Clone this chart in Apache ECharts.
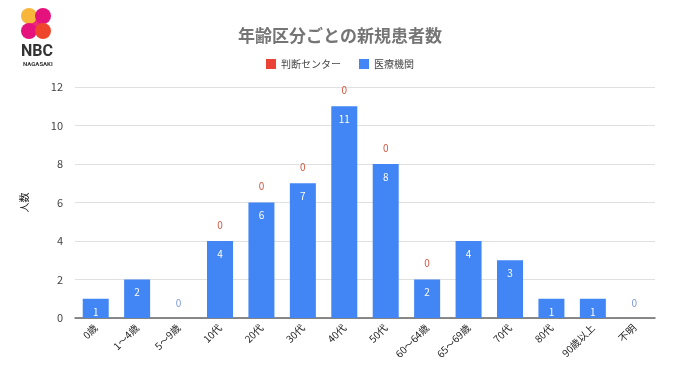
<!DOCTYPE html>
<html><head><meta charset="utf-8">
<script src="https://cdn.jsdelivr.net/npm/echarts@6/dist/echarts.min.js"></script>
<style>html,body{margin:0;padding:0;background:#fff}#c{width:680px;height:382px}</style>
</head><body><div id="c"></div>
<script>
const categories = ['0歳','1〜4歳','5〜9歳','10代','20代','30代','40代','50代','60〜64歳','65〜69歳','70代','80代','90歳以上','不明'];
const centerValues = [null,null,null,0,0,0,0,0,0,null,null,null,null,null];
const hospitalValues = [1,2,0,4,6,7,11,8,2,4,3,1,1,0];
const yTicks = {min:0, max:12, interval:2};
const FONT = '"Noto Sans CJK JP", "Noto Sans", sans-serif';

const chart = echarts.init(document.getElementById('c'), null, {renderer:'canvas'});
chart.setOption({
  backgroundColor:'#fff',
  textStyle:{fontFamily:FONT},
  title:{text:'年齢区分ごとの新規患者数', left:'center', top:22,
    textStyle:{fontSize:17, fontWeight:'bold', color:'#757575', fontFamily:FONT}},
  legend:{top:54, left:'center', itemWidth:10, itemHeight:10, itemGap:18, icon:'rect',
    textStyle:{fontSize:10, color:'#444', fontFamily:FONT},
    data:['判断センター','医療機関']},
  grid:{left:75, right:25, top:87, bottom:64},
  xAxis:{type:'category', data:categories,
    axisLine:{lineStyle:{color:'#666', width:1.5}},
    axisTick:{show:false},
    axisLabel:{rotate:45, fontSize:10, color:'#222', interval:0, margin:8, fontFamily:FONT}},
  yAxis:{type:'value', min:yTicks.min, max:yTicks.max, interval:yTicks.interval,
    name:'人数', nameLocation:'middle', nameGap:46,
    nameTextStyle:{fontSize:10, color:'#222', fontFamily:FONT},
    axisLine:{show:false}, axisTick:{show:false},
    axisLabel:{fontSize:11, color:'#444', margin:12},
    splitLine:{lineStyle:{color:'#e0e0e0'}}},
  series:[
    {name:'医療機関', type:'bar', stack:'s', barWidth:26, itemStyle:{color:'#4285f4'},
      data:hospitalValues.map(v => v === 0 ? {value:v, label:{position:'top', distance:10, color:'#7b9ad8'}} : v),
      label:{show:true, position:'insideTop', distance:8, color:'#fff', fontSize:10}},
    {name:'判断センター', type:'bar', stack:'s', barWidth:26, itemStyle:{color:'#ea4335'},
      data:centerValues,
      label:{show:true, position:'top', distance:11, color:'#d4553f', fontSize:10}}
  ],
  graphic:[
    {type:'polygon', shape:{points:[[23,12],[33,11],[49,35],[38,37]]}, style:{fill:'#ec2a7a'}},
    {type:'circle', shape:{cx:29, cy:16, r:8}, style:{fill:'#f7b53a'}},
    {type:'circle', shape:{cx:43, cy:16, r:8}, style:{fill:'#e5127d'}},
    {type:'circle', shape:{cx:29, cy:31, r:8}, style:{fill:'#e5127d'}},
    {type:'circle', shape:{cx:43, cy:31, r:8}, style:{fill:'#f0452d'}},
    {type:'text', left:21, top:44, style:{text:'NBC', fontSize:16, fontWeight:'bold', fill:'#333', fontFamily:'Roboto, sans-serif'}},
    {type:'text', left:23, top:61, style:{text:'NAGASAKI', fontSize:6, fontWeight:'bold', fill:'#333', fontFamily:'Roboto, sans-serif'}}
  ]
});
</script></body></html>
